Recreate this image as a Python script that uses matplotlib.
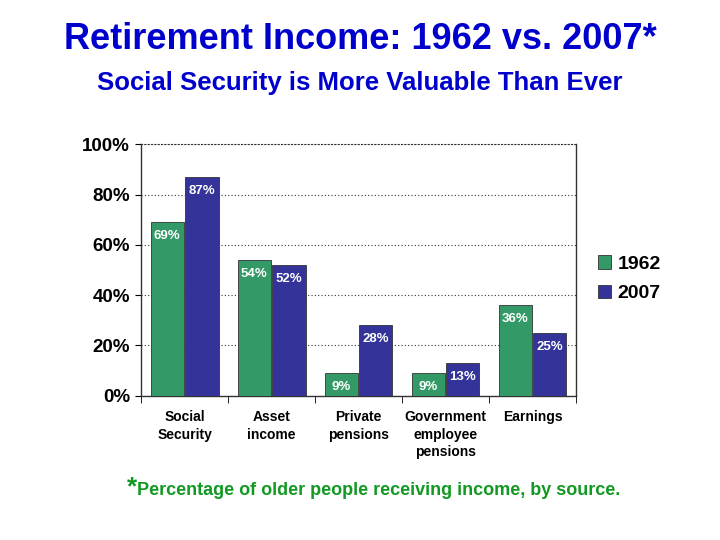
import numpy as np
import matplotlib.pyplot as plt

# ---------- Data ----------
categories = ['Social\nSecurity', 'Asset\nincome', 'Private\npensions',
              'Government\nemployee\npensions', 'Earnings']
vals_1962 = [69, 54, 9, 9, 36]
vals_2007 = [87, 52, 28, 13, 25]
series_names = ['1962', '2007']

green = '#339966'
blue = '#333399'
title_blue = '#0000CC'

plt.rcParams['font.family'] = ['Liberation Sans', 'DejaVu Sans']

fig = plt.figure(figsize=(7.2, 5.4), dpi=100)
ax = fig.add_axes([0.196, 0.267, 0.604, 0.466])

x = np.arange(len(categories))
w = 0.38
b1 = ax.bar(x - 0.2, vals_1962, w, color=green, edgecolor='#333333', linewidth=0.6, label=series_names[0], zorder=3)
b2 = ax.bar(x + 0.2, vals_2007, w, color=blue, edgecolor='#333333', linewidth=0.6, label=series_names[1], zorder=3)

for bars, vals in [(b1, vals_1962), (b2, vals_2007)]:
    for r, v in zip(bars, vals):
        ax.text(r.get_x() + r.get_width() / 2, v - 3.2, f'{v}%', ha='center', va='top',
                color='white', fontsize=9.5, fontweight='bold', zorder=4)

ax.set_xlim(-0.5, len(categories) - 0.5)
ax.set_ylim(0, 100)
ax.set_yticks(range(0, 101, 20))
ax.set_yticklabels([f'{t}%' for t in range(0, 101, 20)], fontsize=13.5, fontweight='bold')
ax.yaxis.grid(True, linestyle=(0, (1, 2)), color='#333333', linewidth=0.8, zorder=0)

ax.set_xticks(x)
ax.set_xticklabels(categories, fontsize=10, fontweight='bold', va='top', linespacing=1.3)
ax.tick_params(axis='x', length=0, pad=10.5)
ax.set_xticks(np.arange(-0.5, len(categories)), minor=True)
ax.tick_params(axis='x', which='minor', length=5, direction='out')
ax.tick_params(axis='y', length=4, direction='out', pad=4)

ax.spines['top'].set_linestyle((0, (1, 2)))
ax.spines['top'].set_color('#333333')
ax.spines['top'].set_linewidth(0.8)
for s in ['left', 'bottom', 'right']:
    ax.spines[s].set_color('#333333')
    ax.spines[s].set_linewidth(1.0)

leg = ax.legend(loc='center left', bbox_to_anchor=(1.01, 0.465), frameon=False,
                prop={'size': 14, 'weight': 'bold'}, handlelength=0.7, handleheight=0.7,
                handletextpad=0.3, labelspacing=0.6)

fig.text(0.5, 0.926, 'Retirement Income: 1962 vs. 2007*', ha='center', va='center',
         fontsize=26, fontweight='bold', color=title_blue)
fig.text(0.5, 0.846, 'Social Security is More Valuable Than Ever', ha='center', va='center',
         fontsize=18.5, fontweight='bold', color=title_blue)

fig.text(0.176, 0.097, '*', ha='left', va='center', fontsize=19, fontweight='bold', color='#119922')
fig.text(0.19, 0.092, 'Percentage of older people receiving income, by source.', ha='left', va='center',
         fontsize=13, fontweight='bold', color='#119922')

fig.savefig('out.png', dpi=100)
